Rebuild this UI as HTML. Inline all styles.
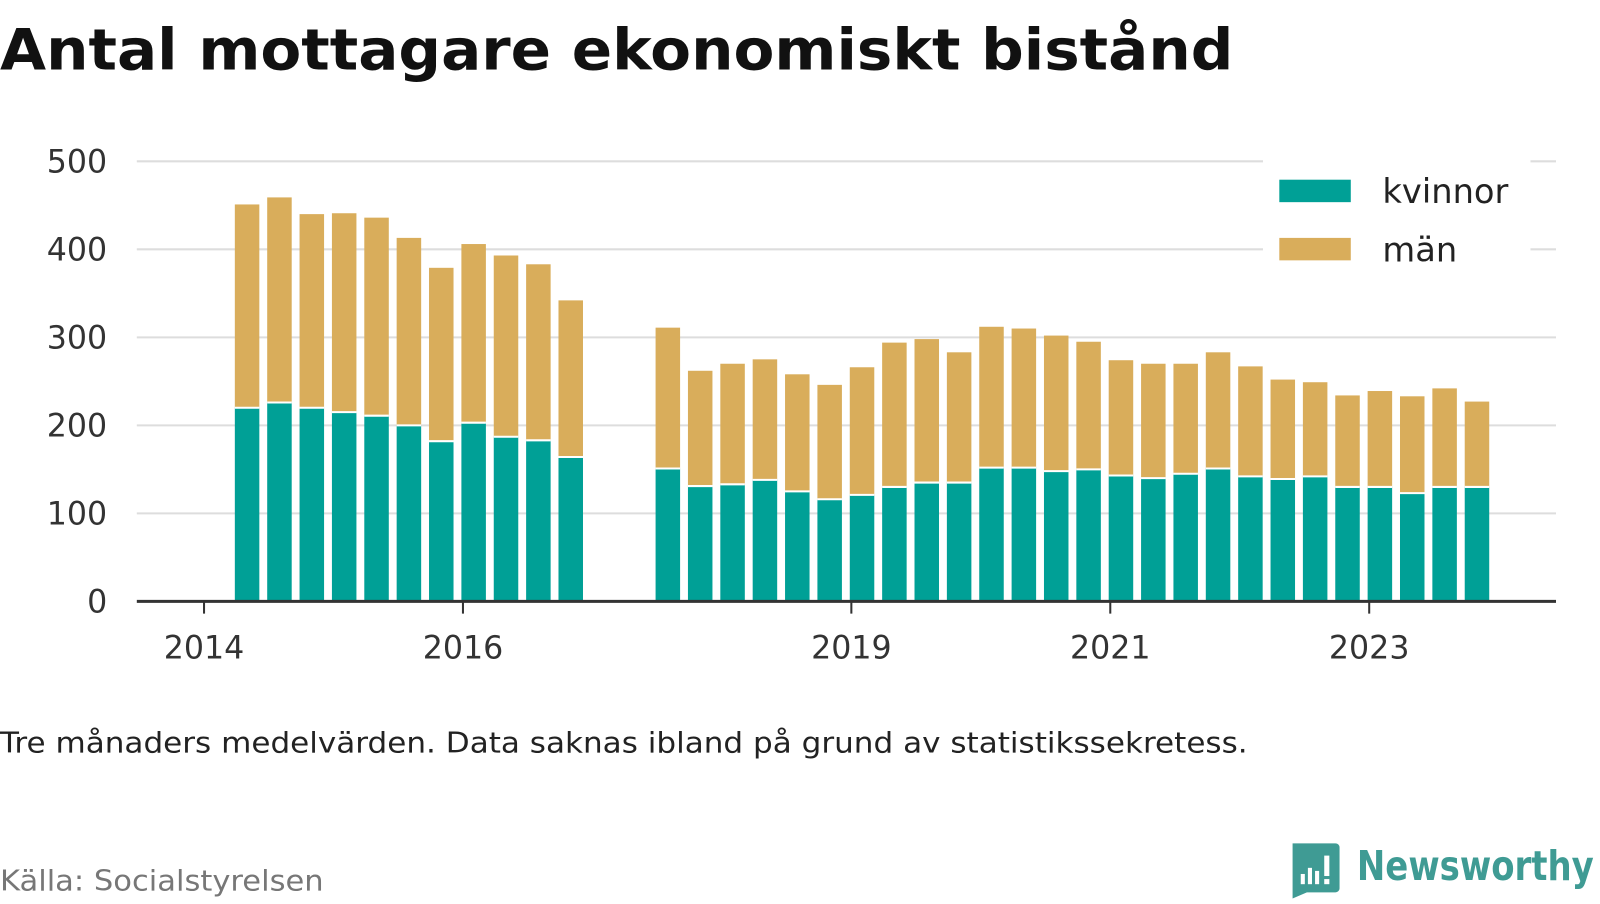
<!DOCTYPE html>
<html><head><meta charset="utf-8"><style>
body{margin:0;width:1600px;height:900px;background:#fff;overflow:hidden;font-family:"DejaVu Sans","Liberation Sans",sans-serif;}
</style></head><body>
<svg width="1600" height="900" xmlns="http://www.w3.org/2000/svg" font-family="DejaVu Sans, Liberation Sans, sans-serif">
<g transform="scale(1.021)">
<text x="0" y="68" font-size="56" font-weight="bold" fill="#111" textLength="1208" lengthAdjust="spacingAndGlyphs">Antal mottagare ekonomiskt bistånd</text>
<g id="grid"></g>
<g id="bars"></g>
<g id="axes"></g>
<g>
<rect x="1237" y="155" width="262" height="115" fill="#fff"/>
<rect x="1253" y="176" width="70" height="22" fill="#00a096"/>
<text x="1354" y="199" font-size="33" fill="#222">kvinnor</text>
<rect x="1253" y="233" width="70" height="22" fill="#d9ad5b"/>
<text x="1354" y="256" font-size="33" fill="#222">män</text>
</g>
<text x="0" y="737" font-size="28" fill="#222" textLength="1222" lengthAdjust="spacingAndGlyphs">Tre månaders medelvärden. Data saknas ibland på grund av statistikssekretess.</text>
<text x="0" y="872" font-size="28" fill="#777" textLength="317" lengthAdjust="spacingAndGlyphs">Källa: Socialstyrelsen</text>
<g>
<path d="M1266 826 h42 a4 4 0 0 1 4 4 v40 a4 4 0 0 1 -4 4 h-28 l-14 6 z" fill="#3f9b94"/>
<rect x="1274" y="856" width="4" height="10" fill="#fff"/><rect x="1281" y="850" width="4" height="16" fill="#fff"/><rect x="1288" y="853" width="4" height="13" fill="#fff"/><rect x="1297" y="838" width="5" height="20" fill="#fff"/><rect x="1297" y="861" width="5" height="5" fill="#fff"/>
<text x="1329" y="862" font-size="40" font-weight="bold" fill="#3f9b94" textLength="232" lengthAdjust="spacingAndGlyphs">Newsworthy</text>
</g>
</g>
</svg>
<script>
const idx=[0,1,2,3,4,5,6,7,8,9,10,13,14,15,16,17,18,19,20,21,22,23,24,25,26,27,28,29,30,31,32,33,34,35,36,37,38];
const totals=[451,459,440,441,436,413,379,406,393,383,342,311,262,270,275,258,246,266,294,298,283,312,310,302,295,274,270,270,283,267,252,249,234,239,233,242,227];
const kvinnor=[220,226,220,215,211,200,182,203,187,183,164,151,131,133,138,125,116,121,130,135,135,152,152,148,150,143,140,145,151,142,139,142,130,130,123,130,130];
const yTicks=[0,100,200,300,400,500];
const xTickLabels=["2014","2016","2019","2021","2023"];
const xTickPos=[-1.33,6.67,18.67,26.67,34.67];
const NS="http://www.w3.org/2000/svg";
const y=v=>589-v*0.862, x=i=>242+i*31.7, bw=24;
function mk(t,a,p){const e=document.createElementNS(NS,t);for(const k in a)e.setAttribute(k,a[k]);p.appendChild(e);return e;}
const g=document.getElementById('grid'),b=document.getElementById('bars'),ax=document.getElementById('axes');
yTicks.forEach(v=>{
 if(v>0){const l=mk('line',{x1:134,x2:1524,y1:y(v),y2:y(v),stroke:'#ddd','stroke-width':2},g);
 
 }
 const t=mk('text',{x:105,y:y(v)+11,'font-size':31,fill:'#333','text-anchor':'end'},ax);t.textContent=v;
 
 
});
idx.forEach((i,n)=>{
 const cx=x(i);
 const m=mk('rect',{x:cx-bw/2,y:y(totals[n]),width:bw,height:y(kvinnor[n])-y(totals[n]),fill:'#d9ad5b'},b);
 
 
 const k=mk('rect',{x:cx-bw/2,y:y(kvinnor[n]),width:bw,height:589-y(kvinnor[n]),fill:'#00a096'},b);
 
 
 mk('line',{x1:cx-bw/2,x2:cx+bw/2,y1:y(kvinnor[n]),y2:y(kvinnor[n]),stroke:'#fff','stroke-width':2},b);
});
const base=mk('line',{x1:134,x2:1524,y1:589,y2:589,stroke:'#333','stroke-width':3},ax);


xTickLabels.forEach((s,n)=>{
 const px=x(xTickPos[n]);
 mk('line',{x1:px,x2:px,y1:589,y2:601,stroke:'#333','stroke-width':2},ax);
 const t=mk('text',{x:px,y:645,'font-size':31,fill:'#333','text-anchor':'middle'},ax);t.textContent=s;
 
 
});
</script>
</body></html>
